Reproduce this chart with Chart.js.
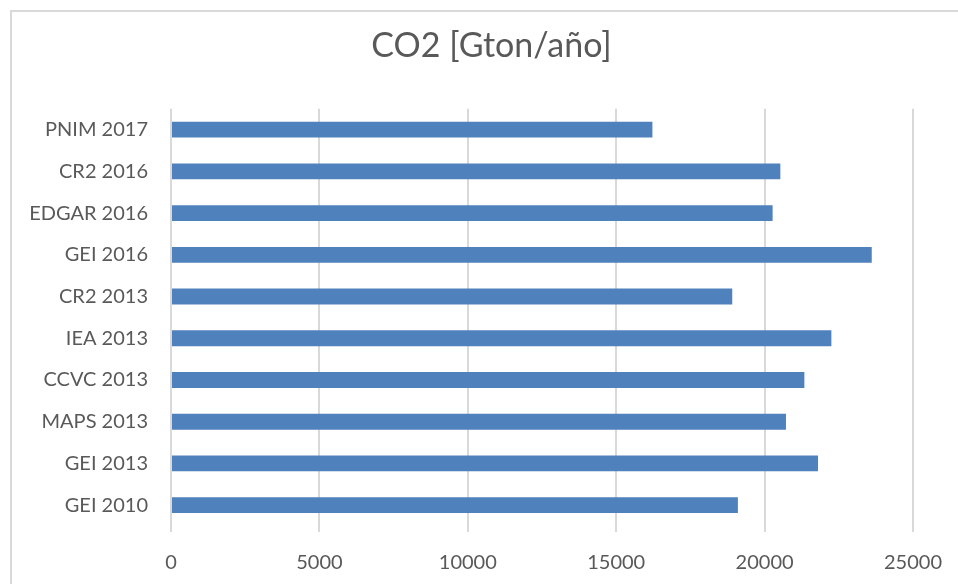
<!DOCTYPE html>
<html>
<head>
<meta charset="utf-8">
<script src="https://cdn.jsdelivr.net/npm/chart.js@4"></script>
<style>
    html, body { margin: 0; padding: 0; background: #fff; }
    #wrap { position: relative; width: 958px; height: 584px; overflow: hidden; }
    #frame { position: absolute; left: 10px; top: 10px; width: 1000px; height: 700px;
             border-left: 2px solid #d9d9d9; border-top: 2px solid #d9d9d9; }
    canvas { position: absolute; left: 0; top: 0; }
</style>
</head>
<body>
<div id="wrap">
    <div id="frame"></div>
    <canvas id="co2Chart" width="958" height="584"></canvas>
</div>
<script>
// ----- DATI -----
const categories = ['PNIM 2017', 'CR2 2016', 'EDGAR 2016', 'GEI 2016', 'CR2 2013',
                    'IEA 2013', 'CCVC 2013', 'MAPS 2013', 'GEI 2013', 'GEI 2010'];
const co2Values = [16220, 20530, 20270, 23610, 18910, 22250, 21340, 20720, 21800, 19100];
const xTickLabels = [0, 5000, 10000, 15000, 20000, 25000];

const TEXT_COLOR = '#595959';
const GRID_COLOR = '#d9d9d9';
const FONT = 'Lato, "Open Sans", sans-serif';

const ctx = document.getElementById('co2Chart').getContext('2d');
new Chart(ctx, {
    type: 'bar',
    data: {
        labels: categories,
        datasets: [{
            label: 'CO2 [Gton/año]',
            data: co2Values,
            backgroundColor: '#4f81bd',
            borderWidth: 0,
            categoryPercentage: 1,
            barPercentage: 0.38
        }]
    },
    options: {
        indexAxis: 'y',
        responsive: false,
        animation: false,
        layout: { padding: { left: 25, right: 0, top: 0, bottom: 0 } },
        plugins: {
            legend: { display: false },
            tooltip: { enabled: false },
            title: {
                display: true,
                text: 'CO2 [Gton/año]',
                color: TEXT_COLOR,
                font: { family: FONT, size: 34, weight: 'normal' },
                padding: { top: 26, bottom: 42 }
            }
        },
        scales: {
            x: {
                min: xTickLabels[0],
                max: xTickLabels[xTickLabels.length - 1],
                afterBuildTicks: (scale) => {
                    scale.ticks = xTickLabels.map(v => ({ value: v }));
                },
                afterFit: (scale) => {
                    scale.height = 58;
                    scale.paddingRight = 45; // spazio a destra dell'area grafico
                },
                ticks: {
                    color: TEXT_COLOR,
                    font: { family: FONT, size: 20 },
                    padding: 19,
                    maxRotation: 0,
                    callback: (v) => String(v)
                },
                grid: { color: GRID_COLOR, lineWidth: 2, tickLength: 6, drawTicks: true },
                border: { display: false }
            },
            y: {
                afterFit: (scale) => { scale.width = 146; },
                ticks: {
                    color: TEXT_COLOR,
                    font: { family: FONT, size: 20 },
                    padding: 23
                },
                grid: { display: false, drawTicks: false },
                border: { display: false }
            }
        }
    }
});
</script>
</body>
</html>
